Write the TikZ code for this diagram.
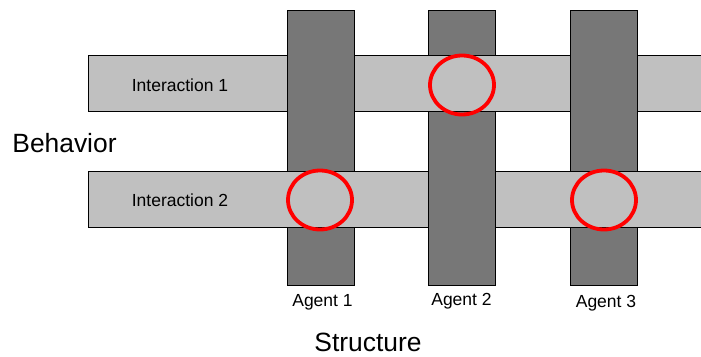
\documentclass[tikz,border=0pt]{standalone}
\usepackage{fontspec}
\setmainfont{Liberation Sans}
\usetikzlibrary{shapes.geometric}
\definecolor{lightbar}{HTML}{C0C0C0}
\definecolor{darkbar}{HTML}{777777}
\tikzset{
  agentbar/.style={draw=black, line width=0.9pt, fill=darkbar, minimum width=67pt, minimum height=275pt, inner sep=0pt, outer sep=0pt},
  interbar/.style={draw=black, line width=0.9pt, fill=lightbar, minimum width=615pt, minimum height=56pt, inner sep=0pt, outer sep=0pt},
  hl/.style={ellipse, draw=red, line width=3.8pt, minimum width=64pt, minimum height=59pt, inner sep=0pt},
  barlabel/.style={font=\fontsize{17.5}{20}\selectfont, inner sep=0pt},
  axislabel/.style={font=\fontsize{26.4}{30}\selectfont, inner sep=0pt}
}
\begin{document}
\begin{tikzpicture}[x=1pt, y=-1pt]
\useasboundingbox (0,0) rectangle (701,356);
% agents 1 and 3 (below interaction 2)
\node[agentbar] (a1) at (320.5,147.5) {};
\node[agentbar] (a3) at (603.5,147.5) {};
% interaction 2 over agents 1 and 3
\node[interbar] (i2) at (395.5,199) {};
% agent 2 over interaction 2
\node[agentbar] (a2) at (462,148) {};
% interaction 1 over agent 2
\node[interbar] (i1) at (395.5,83.5) {};
% agents 1 and 3 over interaction 1
\begin{scope}
  \clip (0,50) rectangle (701,117);
  \draw[line width=0.9pt, fill=darkbar] (a1.south west) rectangle (a1.north east);
  \draw[line width=0.9pt, fill=darkbar] (a3.south west) rectangle (a3.north east);
\end{scope}
% labels
\node[barlabel] (t1) at (180,85) {Interaction 1};
\node[barlabel] (t2) at (180,200) {Interaction 2};
\node[axislabel] (beh) at (64.5,143) {Behavior};
\node[axislabel] (str) at (368,342) {Structure};
\node[barlabel] (l1) at (322.5,302) {Agent 1};
\node[barlabel] (l2) at (461.5,301) {Agent 2};
\node[barlabel] (l3) at (606,303) {Agent 3};
% highlights
\node[hl] (e1) at (462,85) {};
\node[hl] (e2) at (320,200) {};
\node[hl] (e3) at (604,200) {};
\end{tikzpicture}
\end{document}
